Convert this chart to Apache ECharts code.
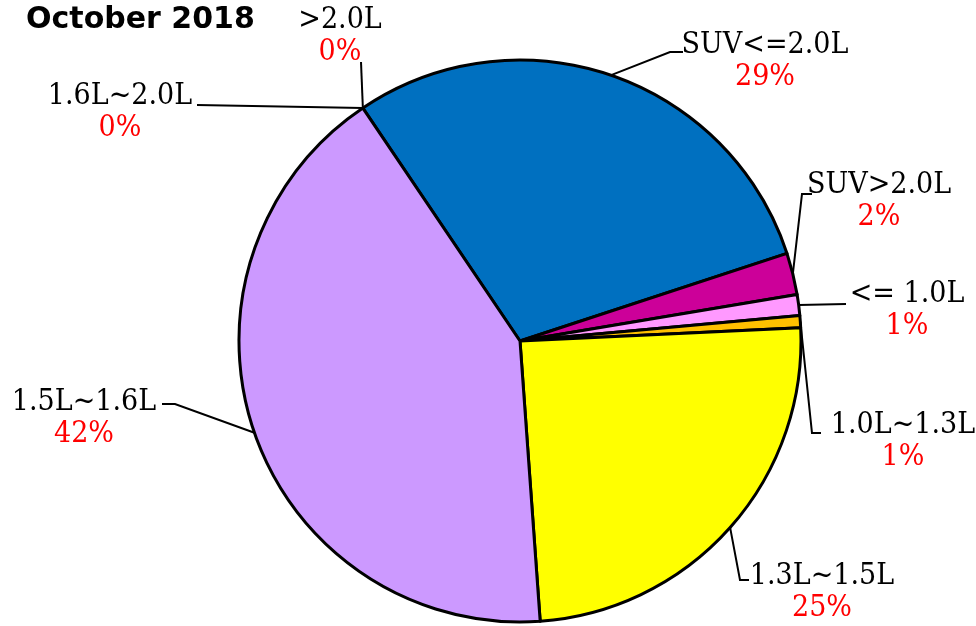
<!DOCTYPE html>
<html>
<head>
<meta charset="utf-8">
<script src="https://cdn.jsdelivr.net/npm/echarts@6/dist/echarts.min.js"></script>
<style>
  html, body { margin: 0; padding: 0; background: #fff; }
  #main { width: 976px; height: 626px; }
</style>
</head>
<body>
<div id="main"></div>
<script>
// share of sales by engine size, October 2018 (percent)
const categories = ['>2.0L', '1.6L~2.0L', 'SUV<=2.0L', 'SUV>2.0L', '<= 1.0L', '1.0L~1.3L', '1.3L~1.5L', '1.5L~1.6L']
const shares = [0, 0, 29.4, 2.4, 1.2, 0.7, 24.6, 41.7]
const colors = ['#7030A0', '#00B050', '#0070C0', '#CC0099', '#FF99FF', '#FFC000', '#FFFF00', '#CC99FF']

// where each label sits (block centre) and the bend of its leader line
const labelSpots = [
  { x: 340, y: 36, bend: [361, 62], end: [361, 62] },
  { x: 120, y: 112, bend: [197, 105], end: [197, 105] },
  { x: 765, y: 61, bend: [670, 52], end: [683, 52] },
  { x: 879, y: 201, bend: [802, 194], end: [812, 194] },
  { x: 907, y: 310, bend: [846, 304], end: [846, 304] },
  { x: 903, y: 441, bend: [812, 433], end: [821, 433] },
  { x: 822, y: 592, bend: [740, 580], end: [749, 580] },
  { x: 84, y: 418, bend: [175, 404], end: [162, 404] }
]

const labelFont = '"DejaVu Serif Condensed", "DejaVu Serif", serif'

const chart = echarts.init(document.getElementById('main'))
const option = {
  backgroundColor: '#FFFFFF',
  animation: false,
  title: {
    text: 'October 2018',
    left: 21,
    top: 0,
    textStyle: {
      fontFamily: '"DejaVu Sans", sans-serif',
      fontWeight: 'bold',
      fontSize: 30,
      color: '#000'
    }
  },
  series: [{
    type: 'pie',
    center: [520, 341],
    radius: 281,
    startAngle: 124,
    clockwise: true,
    avoidLabelOverlap: false,
    itemStyle: { borderColor: '#000', borderWidth: 3 },
    emphasis: { disabled: true },
    label: {
      show: true,
      position: 'outside',
      formatter: p => '{n|' + p.name + '}\n{p|' + Math.round(p.value) + '%}',
      rich: {
        n: { fontFamily: labelFont, fontSize: 30, color: '#000', lineHeight: 32, align: 'center' },
        p: { fontFamily: labelFont, fontSize: 30, color: '#FF0000', lineHeight: 32, align: 'center' }
      }
    },
    labelLine: {
      show: true,
      lineStyle: { color: '#000', width: 2 }
    },
    labelLayout: params => {
      const s = labelSpots[params.dataIndex]
      const start = params.labelLinePoints ? params.labelLinePoints[0] : s.bend
      return {
        x: s.x,
        y: s.y,
        align: 'center',
        verticalAlign: 'middle',
        labelLinePoints: [start, s.bend, s.end]
      }
    },
    data: categories.map((name, i) => ({
      name: name,
      value: shares[i],
      itemStyle: { color: colors[i] }
    }))
  }]
}
chart.setOption(option)
</script>
</body>
</html>
